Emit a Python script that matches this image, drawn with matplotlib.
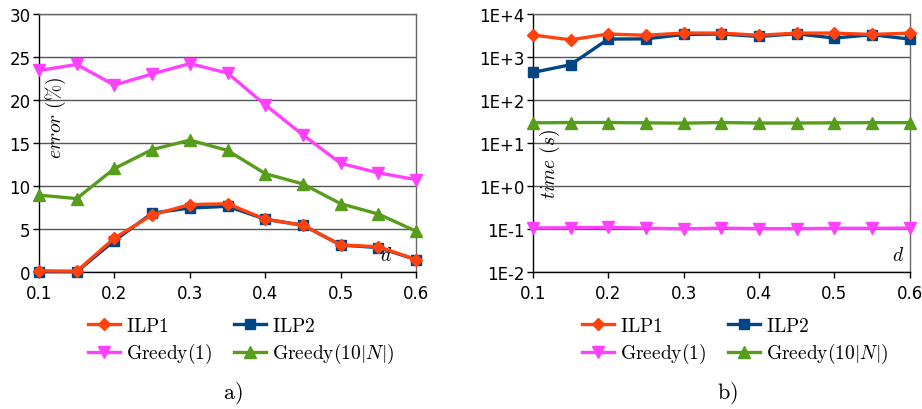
import matplotlib
matplotlib.use("Agg")
import matplotlib.pyplot as plt
from matplotlib.ticker import FixedLocator, FixedFormatter

plt.rcParams['mathtext.fontset'] = 'cm'
plt.rcParams['font.family'] = ['DejaVu Sans']

d = [0.1, 0.15, 0.2, 0.25, 0.3, 0.35, 0.4, 0.45, 0.5, 0.55, 0.6]

err_ilp1 = [0.1, 0.05, 3.9, 6.6, 7.8, 7.9, 6.1, 5.4, 3.1, 2.9, 1.4]
err_ilp2 = [0.0, 0.0, 3.6, 6.8, 7.4, 7.6, 6.1, 5.4, 3.1, 2.8, 1.4]
err_greedy1 = [23.4, 24.1, 21.7, 23.0, 24.2, 23.1, 19.4, 15.9, 12.6, 11.5, 10.7]
err_greedy10 = [8.9, 8.5, 12.0, 14.2, 15.3, 14.1, 11.4, 10.2, 7.9, 6.7, 4.7]

time_ilp1 = [3200, 2480, 3380, 3160, 3560, 3550, 3160, 3550, 3550, 3300, 3550]
time_ilp2 = [432, 652, 2580, 2600, 3300, 3380, 2960, 3430, 2720, 3250, 2580]
time_greedy1 = [0.104, 0.105, 0.107, 0.103, 0.099, 0.103, 0.1, 0.1, 0.102, 0.102, 0.103]
time_greedy10 = [29, 29.5, 29.5, 29, 28.5, 29.5, 28.7, 28.7, 29, 29.3, 29.3]

x_ticks = [0.1, 0.2, 0.3, 0.4, 0.5, 0.6]
x_tick_labels = ['0.1', '0.2', '0.3', '0.4', '0.5', '0.6']
err_ticks = [0, 5, 10, 15, 20, 25, 30]
time_ticks = [1e-2, 1e-1, 1e0, 1e1, 1e2, 1e3, 1e4]
time_tick_labels = ['1E-2', '1E-1', '1E+0', '1E+1', '1E+2', '1E+3', '1E+4']

labels = [r'$\mathrm{ILP1}$', r'$\mathrm{ILP2}$', r'$\mathrm{Greedy(1)}$', r'$\mathrm{Greedy}(10|N|)$']
colors = ['#ff420e', '#004586', '#ff40ff', '#579d1c']
markers = ['D', 's', 'v', '^']
msizes = [6.5, 7.5, 8.5, 8.5]

fig = plt.figure(figsize=(9.22, 4.10), dpi=100)
axL = fig.add_axes([0.0423, 0.335, 0.409, 0.629])
axR = fig.add_axes([0.578, 0.335, 0.4085, 0.629])

def style(ax):
    ax.set_xlim(0.1, 0.6)
    ax.xaxis.set_major_locator(FixedLocator(x_ticks))
    ax.xaxis.set_major_formatter(FixedFormatter(x_tick_labels))
    ax.tick_params(axis='both', direction='out', length=4, width=1, labelsize=12, color='black', pad=2)
    ax.tick_params(axis='x', pad=5)
    ax.grid(axis='y', color='#555555', linewidth=1)
    ax.set_axisbelow(True)
    ax.spines['left'].set_color('black')
    ax.spines['bottom'].set_color('black')
    ax.spines['top'].set_color('#666666')
    ax.spines['right'].set_color('#666666')
    for s in ax.spines.values():
        s.set_linewidth(1)

order = [1, 2, 3, 0]
leg_order = [0, 2, 1, 3]

for ax, data in ((axL, [err_ilp1, err_ilp2, err_greedy1, err_greedy10]),
                 (axR, [time_ilp1, time_ilp2, time_greedy1, time_greedy10])):
    handles = [None] * 4
    for i in order:
        h, = ax.plot(d, data[i], color=colors[i], marker=markers[i], markersize=msizes[i],
                     linewidth=2.4, label=labels[i], clip_on=False, zorder=3 + (1 if i == 0 else 0))
        handles[i] = h
    style(ax)
    ax.legend([handles[k] for k in leg_order], [labels[k] for k in leg_order],
              ncol=2, loc='upper left', bbox_to_anchor=(0.11, -0.14),
              frameon=False, fontsize=14, handlelength=1.65, handletextpad=0.3,
              columnspacing=1.1, labelspacing=0.35, borderaxespad=0)

axL.set_ylim(0, 30)
axL.yaxis.set_major_locator(FixedLocator(err_ticks))
axL.set_yticklabels([str(t) for t in err_ticks])
axL.text(0.045, 0.6, r'$error\ (\%)$', transform=axL.transAxes, rotation=90,
         ha='center', va='center', fontsize=14)
axL.text(0.92, 0.03, r'$d$', transform=axL.transAxes, ha='center', va='bottom', fontsize=14)

axR.set_yscale('log')
axR.set_ylim(1e-2, 1e4)
axR.yaxis.set_major_locator(FixedLocator(time_ticks))
axR.yaxis.set_major_formatter(FixedFormatter(time_tick_labels))
axR.yaxis.set_minor_locator(FixedLocator([]))
axR.text(0.045, 0.42, r'$time\ (s)$', transform=axR.transAxes, rotation=90,
         ha='center', va='center', fontsize=14)
axR.text(0.97, 0.03, r'$d$', transform=axR.transAxes, ha='center', va='bottom', fontsize=14)

fig.text(233 / 922, 1 - 393 / 410, r'$\mathrm{a)}$', ha='center', va='center', fontsize=16)
fig.text(727 / 922, 1 - 393 / 410, r'$\mathrm{b)}$', ha='center', va='center', fontsize=16)

fig.savefig('out.png', dpi=100)
